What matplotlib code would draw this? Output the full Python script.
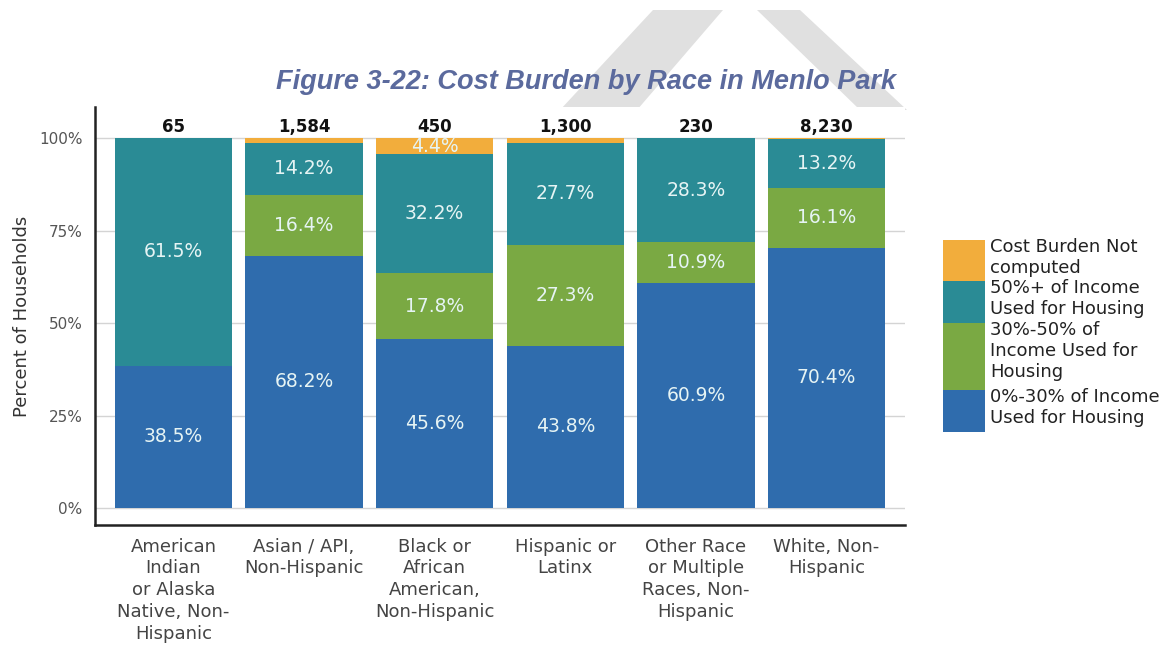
import numpy as np
import matplotlib.pyplot as plt
from matplotlib.patches import Rectangle, Polygon

groups = ["American\nIndian\nor Alaska\nNative, Non-\nHispanic",
          "Asian / API,\nNon-Hispanic",
          "Black or\nAfrican\nAmerican,\nNon-Hispanic",
          "Hispanic or\nLatinx",
          "Other Race\nor Multiple\nRaces, Non-\nHispanic",
          "White, Non-\nHispanic"]
households = ["65", "1,584", "450", "1,300", "230", "8,230"]

# shares (%) stacked bottom to top
low_burden = [38.5, 68.2, 45.6, 43.8, 60.9, 70.4]
mid_burden = [0.0, 16.4, 17.8, 27.3, 10.9, 16.1]
high_burden = [61.5, 14.2, 32.2, 27.7, 28.3, 13.2]
not_computed = [0.0, 1.2, 4.4, 1.2, 0.0, 0.3]

series = [low_burden, mid_burden, high_burden, not_computed]
series_names = ["0%-30% of Income\nUsed for Housing",
                "30%-50% of\nIncome Used for\nHousing",
                "50%+ of Income\nUsed for Housing",
                "Cost Burden Not\ncomputed"]
colors = ["#2f6cad", "#7aa943", "#2a8b95", "#f2ad3c"]

W, H = 1164, 653
plt.rcParams['font.family'] = ['DejaVu Sans']
fig = plt.figure(figsize=(W / 100, H / 100), dpi=100)


def fx(x, y):
    return (x / W, 1 - y / H)


# faint chevron behind the title
for pts in ([(560, 110), (637, 110), (723, 10), (653, 10)],
            [(757, 10), (800, 10), (907, 110), (860, 110)]):
    fig.patches.append(Polygon([fx(*p) for p in pts], closed=True,
                               transform=fig.transFigure, facecolor="#e0e0e0",
                               edgecolor="none", zorder=0))

ax = fig.add_axes([95 / W, 1 - 525 / H, 810 / W, 418 / H])
ax.set_zorder(2)

x = np.arange(len(groups))
bottom = np.zeros(len(groups))
for vals, col in zip(series, colors):
    vals = np.array(vals)
    ax.bar(x, vals, 0.9, bottom=bottom, color=col, zorder=2)
    for xi, b, v in zip(x, bottom, vals):
        if v >= 3:
            ax.text(xi, b + v / 2, f"{v:.1f}%", ha="center", va="center",
                    color="#e6f4f4", fontsize=13.5, zorder=3)
    bottom += vals

for xi, n in zip(x, households):
    ax.text(xi, 103.0, n, ha="center", va="center", fontsize=12,
            fontweight="bold", color="#111111")

ax.set_xlim(-0.6, 5.6)
ax.set_ylim(-4.6, 108.4)
ax.set_yticks([0, 25, 50, 75, 100])
ax.set_yticklabels(["0%", "25%", "50%", "75%", "100%"], fontsize=11, color="#555555")
ax.set_xticks(x)
ax.set_xticklabels(groups, fontsize=13, color="#444444", linespacing=1.28)
ax.tick_params(length=0)
ax.tick_params(axis="x", pad=9)
ax.tick_params(axis="y", pad=9)
ax.grid(axis="y", color="#d4d4d4", linewidth=1, zorder=0)
for s in ["top", "right"]:
    ax.spines[s].set_visible(False)
for s in ["left", "bottom"]:
    ax.spines[s].set_linewidth(1.8)
    ax.spines[s].set_color("#222222")
ax.set_ylabel("Percent of Households", fontsize=13, color="#333333", labelpad=6)

fig.text(*fx(586, 82), "Figure 3-22: Cost Burden by Race in Menlo Park",
         ha="center", va="center", fontsize=19.5, fontweight="bold",
         fontstyle="italic", family="Liberation Sans", color="#5b6a9d", zorder=3)

# legend, top entry first
legend_rows = [(3, 240, 281), (2, 281, 323), (1, 323, 390), (0, 390, 432)]
for i, y0, y1 in legend_rows:
    fig.patches.append(Rectangle(fx(943, y1), 42 / W, (y1 - y0) / H,
                                 transform=fig.transFigure, facecolor=colors[i],
                                 edgecolor="none"))
    fig.text(*fx(990, y0 - 2), series_names[i], ha="left", va="top",
             fontsize=13, color="#222222", linespacing=1.2)

fig.savefig("out.png", dpi=100)
